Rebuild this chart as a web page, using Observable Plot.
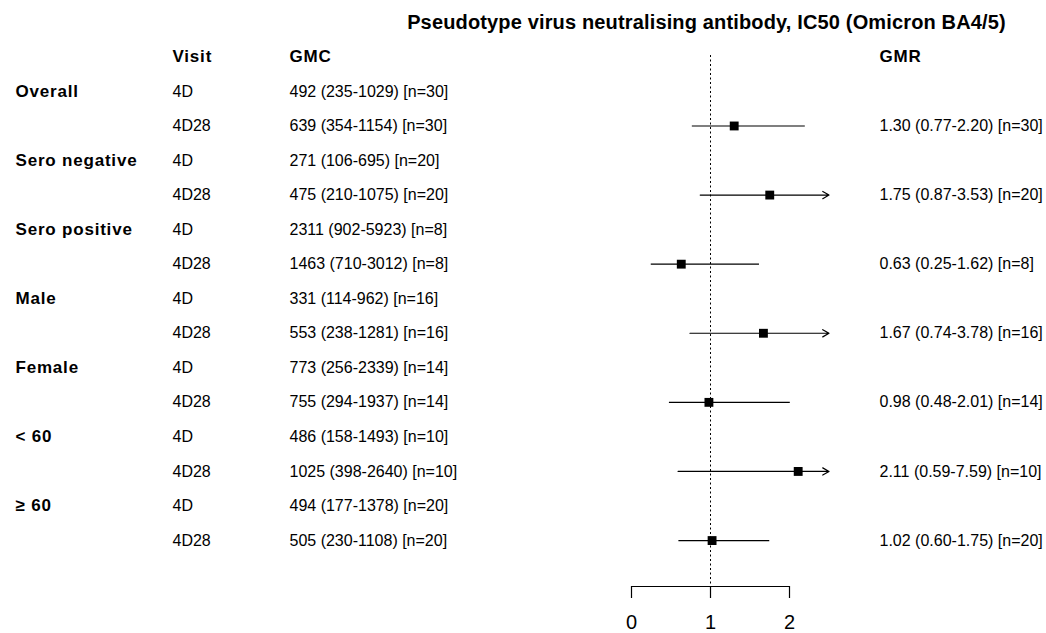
<!DOCTYPE html>
<html>
<head>
<meta charset="utf-8">
<script src="https://cdn.jsdelivr.net/npm/d3@7"></script>
<script src="https://cdn.jsdelivr.net/npm/@observablehq/plot@0.6"></script>
<style>
  html, body { margin: 0; padding: 0; background: #fff; }
  svg { display: block; }
  /* slightly looser tracking for the bold table labels */
  svg g[font-weight="bold"] { letter-spacing: 0.8px; }
  svg g[font-weight="bold"][font-size="20"] { letter-spacing: 0.15px; }
</style>
</head>
<body>
<div id="chart"></div>
<script>
// Subgroups and visits
const groups = ["Overall", "Sero negative", "Sero positive", "Male", "Female", "< 60", "\u2265 60"];
const visits = ["4D", "4D28"];

// Geometric mean concentration per visit row (two rows per subgroup)
const gmc     = [492, 639, 271, 475, 2311, 1463, 331, 553, 773, 755, 486, 1025, 494, 505];
const gmcLow  = [235, 354, 106, 210, 902, 710, 114, 238, 256, 294, 158, 398, 177, 230];
const gmcHigh = [1029, 1154, 695, 1075, 5923, 3012, 962, 1281, 2339, 1937, 1493, 2640, 1378, 1108];
const gmcN    = [30, 30, 20, 20, 8, 8, 16, 16, 14, 14, 10, 10, 20, 20];

// Geometric mean ratio (4D28 vs 4D) per subgroup
const gmr     = [1.30, 1.75, 0.63, 1.67, 0.98, 2.11, 1.02];
const gmrLow  = [0.77, 0.87, 0.25, 0.74, 0.48, 0.59, 0.60];
const gmrHigh = [2.20, 3.53, 1.62, 3.78, 2.01, 7.59, 1.75];
const gmrN    = [30, 20, 8, 16, 14, 10, 20];

const xTicks = [0, 1, 2];
const headers = ["Visit", "GMC", "GMR"];
const title = "Pseudotype virus neutralising antibody, IC50 (Omicron BA4/5)";

// Upper limit of the drawn interval; longer intervals end in an arrow
const ciLimit = 2.5;

const headerRow = -1;
const yDomain = [-1.04, 14.33];

const rows = gmc.map((v, i) => ({
  row: i,
  group: i % 2 === 0 ? groups[i / 2] : "",
  visit: visits[i % 2],
  label: `${v} (${gmcLow[i]}-${gmcHigh[i]}) [n=${gmcN[i]}]`
}));

const ratios = gmr.map((v, g) => ({
  row: 2 * g + 1,
  gmr: v,
  lo: gmrLow[g],
  hi: gmrHigh[g],
  clipped: gmrHigh[g] > ciLimit,
  label: `${v.toFixed(2)} (${gmrLow[g].toFixed(2)}-${gmrHigh[g].toFixed(2)}) [n=${gmrN[g]}]`
}));

const fontFamily = "'Liberation Sans', Arial, Helvetica, sans-serif";

// column offsets relative to the plot frame edges
const colGroup = -616, colVisit = -459, colGmc = -342, colGmr = 90;
const bold = { fontWeight: "bold", fontSize: 17 };

const chart = Plot.plot({
  width: 1046,
  height: 633,
  marginLeft: 631,
  marginRight: 257,
  marginTop: 55,
  marginBottom: 47,
  x: { domain: [xTicks[0], xTicks[xTicks.length - 1]] },
  y: { domain: yDomain, reverse: true, axis: null },
  style: { fontFamily, fontSize: "16px", color: "#000", background: "#fff" },
  marks: [
    // reference line at ratio 1
    Plot.ruleX([1], { stroke: "#000", strokeWidth: 1, strokeDasharray: "2,2.5" }),
    // axis baseline and ticks
    Plot.ruleY([yDomain[1]], { x1: xTicks[0], x2: xTicks[xTicks.length - 1], stroke: "#000", strokeWidth: 1.2 }),
    Plot.axisX({ ticks: xTicks, tickFormat: d3.format("d"), tickSize: 12, tickPadding: 16, fontSize: 20, label: null, stroke: "#000", strokeWidth: 1.2 }),

    // title
    Plot.text([title], { frameAnchor: "top", lineAnchor: "middle", dy: -33, dx: -4, fontWeight: "bold", fontSize: 20 }),

    // column headers
    Plot.text([headers[0]], { y: () => headerRow, frameAnchor: "left", textAnchor: "start", dx: colVisit, ...bold }),
    Plot.text([headers[1]], { y: () => headerRow, frameAnchor: "left", textAnchor: "start", dx: colGmc, ...bold }),
    Plot.text([headers[2]], { y: () => headerRow, frameAnchor: "right", textAnchor: "start", dx: colGmr, ...bold }),

    // table columns
    Plot.text(rows, { y: "row", text: "group", frameAnchor: "left", textAnchor: "start", dx: colGroup, ...bold }),
    Plot.text(rows, { y: "row", text: "visit", frameAnchor: "left", textAnchor: "start", dx: colVisit }),
    Plot.text(rows, { y: "row", text: "label", frameAnchor: "left", textAnchor: "start", dx: colGmc }),
    Plot.text(ratios, { y: "row", text: "label", frameAnchor: "right", textAnchor: "start", dx: colGmr }),

    // confidence intervals
    Plot.ruleY(ratios.filter(d => !d.clipped), { y: "row", x1: "lo", x2: "hi", stroke: "#000", strokeWidth: 1.2 }),
    Plot.arrow(ratios.filter(d => d.clipped), {
      x1: "lo", x2: () => ciLimit, y1: "row", y2: "row",
      stroke: "#000", strokeWidth: 1.2, headLength: 9, headAngle: 60
    }),

    // point estimates
    Plot.dot(ratios, { x: "gmr", y: "row", symbol: "square", r: 5, fill: "#000", stroke: null })
  ]
});

document.getElementById("chart").appendChild(chart);
</script>
</body>
</html>
